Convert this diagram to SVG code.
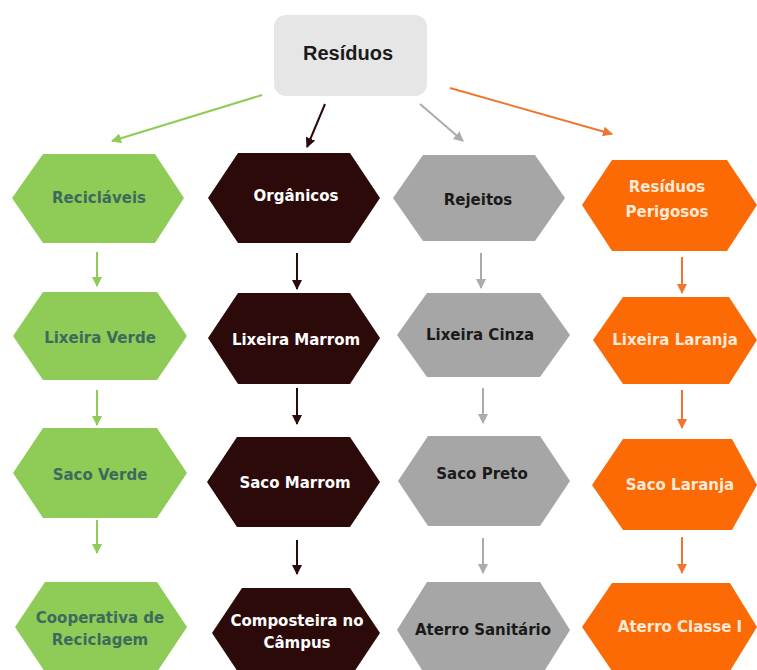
<svg xmlns="http://www.w3.org/2000/svg" width="757" height="670" viewBox="0 0 757 670">
<style>
.g{fill:#8ecb57}.b{fill:#2c0a0a}.y{fill:#a6a6a6}.o{fill:#fc6a06}
text{font-family:"DejaVu Sans",Verdana,sans-serif;font-weight:bold;font-size:15px;text-anchor:middle;dominant-baseline:central}
.tg{fill:#3d6a5c}.tb{fill:#ffffff}.ty{fill:#1a1a1a}.to{fill:#fde9d6}
.cg{stroke:#8ecb57}.cb{stroke:#2c0a0a}.cy{stroke:#ababab}.co{stroke:#ef7630}
#connectors line{stroke-width:2}
</style>
<defs>
<marker id="ag" viewBox="0 0 10 10" refX="9" refY="5" markerWidth="5" markerHeight="5" orient="auto"><path d="M0,0L10,5L0,10z" fill="#8ecb57"/></marker>
<marker id="ab" viewBox="0 0 10 10" refX="9" refY="5" markerWidth="5" markerHeight="5" orient="auto"><path d="M0,0L10,5L0,10z" fill="#2c0a0a"/></marker>
<marker id="ay" viewBox="0 0 10 10" refX="9" refY="5" markerWidth="5" markerHeight="5" orient="auto"><path d="M0,0L10,5L0,10z" fill="#ababab"/></marker>
<marker id="ao" viewBox="0 0 10 10" refX="9" refY="5" markerWidth="5" markerHeight="5" orient="auto"><path d="M0,0L10,5L0,10z" fill="#ef7630"/></marker>
</defs>
<rect width="757" height="670" fill="#ffffff"/>
<g id="connectors">
<line class="cg" x1="262" y1="95" x2="112" y2="141" marker-end="url(#ag)"/>
<line class="cb" x1="325" y1="104" x2="307" y2="147" marker-end="url(#ab)"/>
<line class="cy" x1="420" y1="104" x2="463" y2="141" marker-end="url(#ay)"/>
<line class="co" x1="450" y1="88" x2="612" y2="134" marker-end="url(#ao)"/>
<line class="cg" x1="97" y1="252" x2="97" y2="286" marker-end="url(#ag)"/>
<line class="cg" x1="97" y1="390" x2="97" y2="425" marker-end="url(#ag)"/>
<line class="cg" x1="97" y1="520" x2="97" y2="553" marker-end="url(#ag)"/>
<line class="cb" x1="297" y1="253" x2="297" y2="289" marker-end="url(#ab)"/>
<line class="cb" x1="297" y1="388" x2="297" y2="424" marker-end="url(#ab)"/>
<line class="cb" x1="297" y1="540" x2="297" y2="574" marker-end="url(#ab)"/>
<line class="cy" x1="481" y1="253" x2="481" y2="288" marker-end="url(#ay)"/>
<line class="cy" x1="483" y1="388" x2="483" y2="423" marker-end="url(#ay)"/>
<line class="cy" x1="483" y1="538" x2="483" y2="573" marker-end="url(#ay)"/>
<line class="co" x1="682" y1="257" x2="682" y2="293" marker-end="url(#ao)"/>
<line class="co" x1="682" y1="390" x2="682" y2="428" marker-end="url(#ao)"/>
<line class="co" x1="682" y1="537" x2="682" y2="573" marker-end="url(#ao)"/>
</g>
<g id="residuos">
<rect x="274" y="15" width="153" height="81" rx="12" fill="#e6e6e6"/>
<text x="348" y="53" style="font-family:'Liberation Sans',Arial,sans-serif;font-size:20px" fill="#1a1a1a">Resíduos</text>
</g>
<g id="reciclaveis"><polygon class="g" points="12,198 43,154 155,154 184,198 155,243 43,243"/><text class="tg" x="99" y="198">Recicláveis</text></g>
<g id="organicos"><polygon class="b" points="208,198 238,153 350,153 380,198 350,243 238,243"/><text class="tb" x="296" y="196">Orgânicos</text></g>
<g id="rejeitos"><polygon class="y" points="393,198 423,155 535,155 565,198 535,241 423,241"/><text class="ty" x="478" y="200">Rejeitos</text></g>
<g id="perigosos"><polygon class="o" points="582,205 612,160 727,160 757,205 727,251 612,251"/><text class="to" x="667" y="187">Resíduos</text><text class="to" x="667" y="212">Perigosos</text></g>
<g id="lixeira-verde"><polygon class="g" points="13,336 43,292 157,292 187,336 157,380 43,380"/><text class="tg" x="100" y="338">Lixeira Verde</text></g>
<g id="lixeira-marrom"><polygon class="b" points="208,338 238,293 350,293 380,338 350,384 238,384"/><text class="tb" x="296" y="340">Lixeira Marrom</text></g>
<g id="lixeira-cinza"><polygon class="y" points="397,335 427,293 540,293 570,335 540,377 427,377"/><text class="ty" x="480" y="335">Lixeira Cinza</text></g>
<g id="lixeira-laranja"><polygon class="o" points="593,340 623,297 729,297 757,340 729,384 623,384"/><text class="to" x="675" y="340">Lixeira Laranja</text></g>
<g id="saco-verde"><polygon class="g" points="13,473 43,428 157,428 187,473 157,518 43,518"/><text class="tg" x="100" y="475">Saco Verde</text></g>
<g id="saco-marrom"><polygon class="b" points="207,482 237,437 350,437 380,482 350,527 237,527"/><text class="tb" x="295" y="483">Saco Marrom</text></g>
<g id="saco-preto"><polygon class="y" points="398,481 428,436 540,436 570,481 540,526 428,526"/><text class="ty" x="482" y="474">Saco Preto</text></g>
<g id="saco-laranja"><polygon class="o" points="592,485 623,439 732,439 757,485 732,530 623,530"/><text class="to" x="680" y="485">Saco Laranja</text></g>
<g id="cooperativa"><polygon class="g" points="15,627 45,582 157,582 187,627 157,672 45,672"/><text class="tg" x="100" y="618">Cooperativa de</text><text class="tg" x="100" y="640">Reciclagem</text></g>
<g id="composteira"><polygon class="b" points="212,633 242,588 350,588 380,633 350,678 242,678"/><text class="tb" x="297" y="621">Composteira no</text><text class="tb" x="297" y="643">Câmpus</text></g>
<g id="aterro-sanitario"><polygon class="y" points="397,630 427,582 540,582 570,630 540,678 427,678"/><text class="ty" x="483" y="630">Aterro Sanitário</text></g>
<g id="aterro-classe"><polygon class="o" points="582,627 612,583 730,583 757,627 730,671 612,671"/><text class="to" x="680" y="627">Aterro Classe I</text></g>
</svg>
